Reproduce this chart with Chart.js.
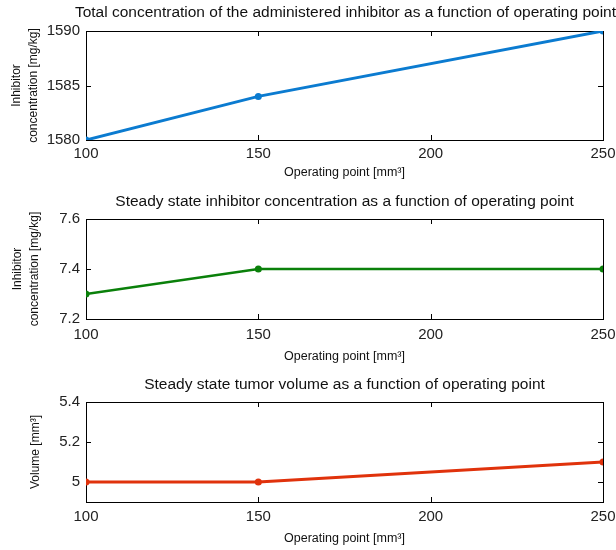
<!DOCTYPE html>
<html>
<head>
<meta charset="utf-8">
<script src="https://cdn.jsdelivr.net/npm/chart.js@4/dist/chart.umd.min.js"></script>
<style>
  html, body { margin: 0; padding: 0; background: #ffffff; }
  #wrap { position: relative; width: 616px; height: 550px; }
  canvas { position: absolute; left: 0; }
</style>
</head>
<body>
<div id="wrap">
  <canvas id="c1" width="616" height="180" style="top:0px"></canvas>
  <canvas id="c2" width="616" height="190" style="top:180px"></canvas>
  <canvas id="c3" width="616" height="180" style="top:370px"></canvas>
</div>
<script>
// Operating points (tumour volume, mm^3) and the three responses
const operatingPoints = [100, 150, 250];
const totalInhibitor = [1580, 1584, 1590];
const steadyInhibitor = [7.3, 7.4, 7.4];
const steadyVolume = [5.0, 5.0, 5.1];

// Tick values
const xTicks = [100, 150, 200, 250];
const totalTicks = [1580, 1585, 1590];
const steadyTicks = [7.2, 7.4, 7.6];
const volumeTicks = [5, 5.2, 5.4];

const FONT = "'Liberation Sans', Arial, sans-serif";

// Draws the boxed frame with inward tick marks on all four sides
const framePlugin = {
  id: 'frame',
  beforeDatasetsDraw(chart) {
    const { ctx, chartArea: a, scales } = chart;
    const len = 5;
    ctx.save();
    ctx.strokeStyle = '#000';
    ctx.lineWidth = 1;
    ctx.strokeRect(Math.round(a.left) + 0.5, Math.round(a.top) + 0.5,
                   Math.round(a.right - a.left), Math.round(a.bottom - a.top));
    ctx.beginPath();
    scales.x.ticks.forEach(t => {
      const px = Math.round(scales.x.getPixelForValue(t.value)) + 0.5;
      ctx.moveTo(px, a.bottom); ctx.lineTo(px, a.bottom - len);
      ctx.moveTo(px, a.top); ctx.lineTo(px, a.top + len);
    });
    scales.y.ticks.forEach(t => {
      const py = Math.round(scales.y.getPixelForValue(t.value)) + 0.5;
      ctx.moveTo(a.left, py); ctx.lineTo(a.left + len, py);
      ctx.moveTo(a.right, py); ctx.lineTo(a.right - len, py);
    });
    ctx.stroke();
    ctx.restore();
  }
};

function fmt(v) { return String(+v.toFixed(4)); }

function makeChart(id, cfg) {
  const pts = operatingPoints.map((x, i) => ({ x: x, y: cfg.values[i] }));
  return new Chart(document.getElementById(id), {
    type: 'line',
    data: {
      datasets: [{
        data: pts,
        borderColor: cfg.color,
        backgroundColor: cfg.color,
        borderWidth: cfg.width,
        pointRadius: 3.5,
        pointHoverRadius: 3.5,
        pointBorderWidth: 0,
        tension: 0
      }]
    },
    options: {
      responsive: false,
      animation: false,
      events: [],
      layout: { padding: 0 },
      plugins: {
        legend: { display: false },
        tooltip: { enabled: false },
        title: {
          display: true,
          fullSize: cfg.titleFull,
          align: cfg.titleAlign,
          text: cfg.title,
          color: '#111',
          font: { family: FONT, size: 15.5, weight: 'normal', lineHeight: 1.2 },
          padding: { top: cfg.titleTop, bottom: cfg.titleBottom }
        }
      },
      scales: {
        x: {
          type: 'linear',
          min: 100, max: 250,
          afterBuildTicks: s => { s.ticks = xTicks.map(v => ({ value: v })); },
          afterFit: s => {
            s.height = cfg.xHeight;
            s.paddingLeft = 0;
            s.paddingRight = 13;
          },
          grid: { display: false, drawTicks: false },
          border: { display: false },
          ticks: {
            padding: cfg.xTickPad,
            color: '#222',
            font: { family: FONT, size: 15 },
            maxRotation: 0,
            callback: v => fmt(v)
          },
          title: {
            display: true,
            text: 'Operating point [mm³]',
            color: '#111',
            font: { family: FONT, size: 12.5, lineHeight: 1.2 },
            padding: { top: 0, bottom: cfg.xTitleBottom }
          }
        },
        y: {
          min: cfg.yMin, max: cfg.yMax,
          afterBuildTicks: s => { s.ticks = cfg.yTicks.map(v => ({ value: v })); },
          afterFit: s => { s.width = 86; },
          grid: { display: false, drawTicks: false },
          border: { display: false },
          ticks: {
            padding: 6,
            color: '#222',
            font: { family: FONT, size: 15 },
            callback: v => fmt(v)
          },
          title: {
            display: true,
            text: cfg.yTitle,
            color: '#111',
            font: { family: FONT, size: 12, lineHeight: 1.4 },
            padding: { top: cfg.yTitleTop, bottom: 0 }
          }
        }
      }
    },
    plugins: [framePlugin]
  });
}

makeChart('c1', {
  title: 'Total concentration of the administered inhibitor as a function of operating point',
  titleFull: true, titleAlign: 'end',
  values: totalInhibitor, color: '#0b7bd0', width: 3,
  yMin: 1580, yMax: 1590, yTicks: totalTicks,
  yTitle: ['Inhibitor', 'concentration [mg/kg]'], yTitleTop: 8,
  titleTop: 3.2, titleBottom: 9.2, xHeight: 40, xTickPad: 5, xTitleBottom: 0
});

makeChart('c2', {
  title: 'Steady state inhibitor concentration as a function of operating point',
  titleFull: false, titleAlign: 'center',
  values: steadyInhibitor, color: '#0a800a', width: 2.5,
  yMin: 7.2, yMax: 7.6, yTicks: steadyTicks,
  yTitle: ['Inhibitor', 'concentration [mg/kg]'], yTitleTop: 9,
  titleTop: 12.7, titleBottom: 7.7, xHeight: 51, xTickPad: 7, xTitleBottom: 6
});

makeChart('c3', {
  title: 'Steady state tumor volume as a function of operating point',
  titleFull: false, titleAlign: 'center',
  values: steadyVolume, color: '#e0320c', width: 3,
  yMin: 4.9, yMax: 5.4, yTicks: volumeTicks,
  yTitle: 'Volume [mm³]', yTitleTop: 27,
  titleTop: 5.7, titleBottom: 7.7, xHeight: 48, xTickPad: 6, xTitleBottom: 3.5
});
</script>
</body>
</html>
